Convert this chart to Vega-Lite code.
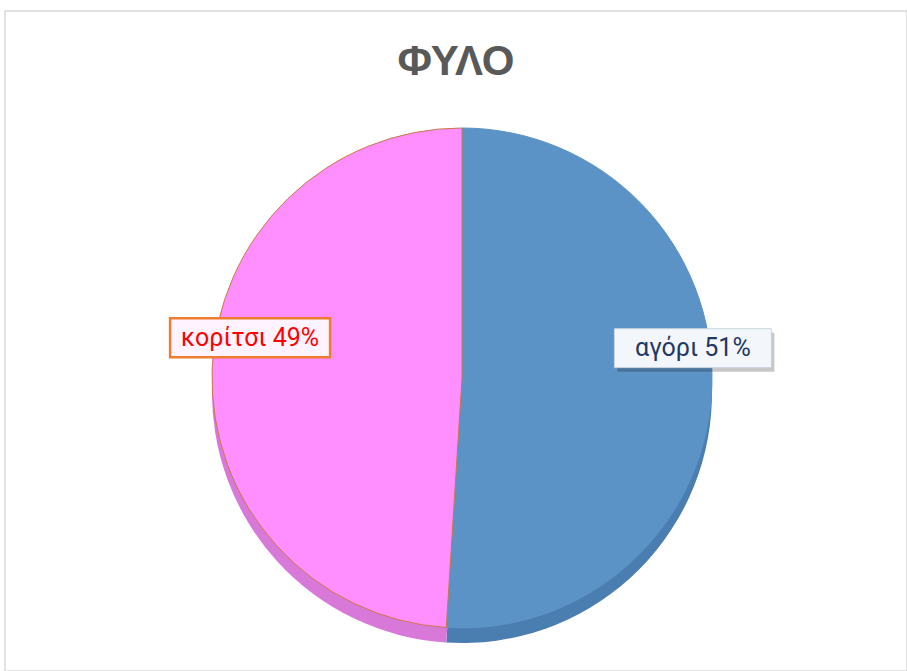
{
  "$schema": "https://vega.github.io/schema/vega-lite/v6.json",
  "autosize": "none",
  "width": 902,
  "height": 660,
  "padding": {"left": 5, "top": 11, "right": 0, "bottom": 0},
  "background": "white",
  "view": {"stroke": "#D9D9D9", "strokeWidth": 1.5},
  "title": {"text": "ΦΥΛΟ", "fontSize": 42, "font": "Liberation Sans", "fontWeight": "bold", "color": "#595959", "offset": -73, "anchor": "middle"},
  "data": {"values": [
    {"gender": "αγόρι", "value": 51, "label": "αγόρι 51%", "order": 1},
    {"gender": "κορίτσι", "value": 49, "label": "κορίτσι 49%", "order": 2}
  ]},
  "transform": [
    {"joinaggregate": [{"op": "sum", "field": "value", "as": "total"}]},
    {"window": [{"op": "sum", "field": "value", "as": "cum"}], "sort": [{"field": "order"}], "frame": [null, 0]},
    {"calculate": "(datum.cum - datum.value/2)/datum.total*2*PI", "as": "mid"},
    {"calculate": "sin(datum.mid)", "as": "px"},
    {"calculate": "cos(datum.mid)", "as": "py"}
  ],
  "layer": [
    {
      "mark": {"type": "arc", "radius": 250, "xOffset": 6, "yOffset": 52, "strokeWidth": 1},
      "encoding": {
        "theta": {"field": "value", "type": "quantitative", "stack": true},
        "order": {"field": "order"},
        "color": {"field": "gender", "type": "nominal", "scale": {"domain": ["αγόρι", "κορίτσι"], "range": ["#4A7DB0", "#D878D8"]}, "legend": null}
      }
    },
    {
      "mark": {"type": "arc", "radius": 250, "xOffset": 6, "yOffset": 37, "strokeWidth": 1},
      "encoding": {
        "theta": {"field": "value", "type": "quantitative", "stack": true},
        "order": {"field": "order"},
        "fill": {"field": "gender", "type": "nominal", "scale": {"domain": ["αγόρι", "κορίτσι"], "range": ["#5B93C6", "#FF8EFF"]}, "legend": null},
        "stroke": {"field": "gender", "type": "nominal", "scale": {"domain": ["αγόρι", "κορίτσι"], "range": ["#5B93C6", "#C8784A"]}, "legend": null}
      }
    },
    {
      "transform": [{"filter": "datum.order == 1"}],
      "mark": {"type": "point", "shape": "M-1,-0.248L1,-0.248L1,0.248L-1,0.248Z", "size": 24649, "filled": true, "fill": "#000000", "opacity": 0.22, "xOffset": 18.5, "yOffset": 6},
      "encoding": {
        "x": {"field": "px", "type": "quantitative", "scale": {"domain": [-2.036, 2.036], "nice": false, "zero": false}, "axis": null},
        "y": {"field": "py", "type": "quantitative", "scale": {"domain": [-2, 2], "nice": false, "zero": false}, "axis": null}
      }
    },
    {
      "transform": [{"filter": "datum.order == 1"}],
      "mark": {"type": "point", "shape": "M-1,-0.248L1,-0.248L1,0.248L-1,0.248Z", "size": 24649, "filled": true, "fill": "#F3F6FA", "stroke": "#C9D3DE", "strokeWidth": 1, "opacity": 1, "xOffset": 15.5, "yOffset": 2},
      "encoding": {
        "x": {"field": "px", "type": "quantitative"},
        "y": {"field": "py", "type": "quantitative"}
      }
    },
    {
      "transform": [{"filter": "datum.order == 2"}],
      "mark": {"type": "point", "shape": "M-1,-0.244L1,-0.244L1,0.244L-1,0.244Z", "size": 25600, "filled": true, "fill": "#FFF3FF", "stroke": "#ED7D31", "strokeWidth": 2.5, "opacity": 1, "xOffset": 15.5, "yOffset": 2},
      "encoding": {
        "x": {"field": "px", "type": "quantitative"},
        "y": {"field": "py", "type": "quantitative"}
      }
    },
    {
      "transform": [{"filter": "datum.order == 1"}],
      "mark": {"type": "text", "font": "Roboto", "fontSize": 25, "color": "#1F3864", "align": "center", "baseline": "middle", "xOffset": 15.5, "yOffset": 2},
      "encoding": {
        "x": {"field": "px", "type": "quantitative"},
        "y": {"field": "py", "type": "quantitative"},
        "text": {"field": "label", "type": "nominal"}
      }
    },
    {
      "transform": [{"filter": "datum.order == 2"}],
      "mark": {"type": "text", "font": "Roboto", "fontSize": 25, "color": "#FF0000", "align": "center", "baseline": "middle", "xOffset": 15.5, "yOffset": 2},
      "encoding": {
        "x": {"field": "px", "type": "quantitative"},
        "y": {"field": "py", "type": "quantitative"},
        "text": {"field": "label", "type": "nominal"}
      }
    }
  ],
  "resolve": {"scale": {"color": "independent", "fill": "independent", "stroke": "independent"}}
}
